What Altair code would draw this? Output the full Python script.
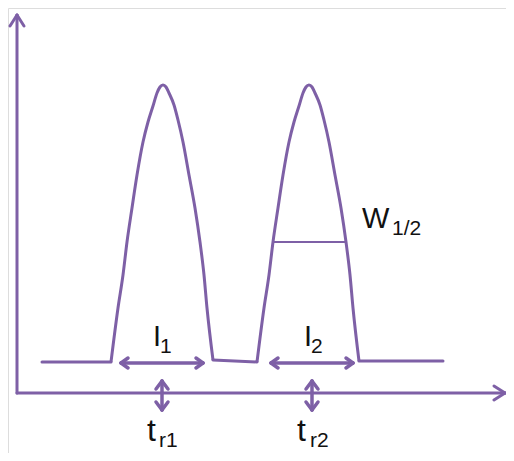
import altair as alt
import pandas as pd

# Chromatogram: baseline pieces (time, signal)
base_t = [25, 94, 196, 240, 342, 426]
base_s = [31, 31, 33, 31, 32, 32]
base_part = [0, 0, 1, 1, 2, 2]

# Peak 1 and peak 2 (time, signal)
peak1_t = [94, 101, 106, 110, 115, 120, 126, 131, 136, 140, 143, 146, 149, 152, 157, 161, 166, 172, 178, 183, 187, 190, 196]
peak1_s = [31, 85, 118, 151, 185, 218, 251, 271, 287, 300, 306, 308, 306, 300, 288, 273, 251, 218, 185, 151, 118, 85, 33]
peak2_t = [240, 247, 252, 256, 261, 266, 272, 277, 282, 286, 289, 292, 295, 298, 303, 307, 312, 318, 324, 329, 333, 336, 342]
peak2_s = [31, 85, 118, 151, 185, 218, 251, 271, 287, 300, 306, 308, 306, 300, 288, 273, 251, 218, 185, 151, 118, 85, 32]

# Axes (with arrow heads)
axis_t = [0, 0, -7, 7, 477, 477]
axis_s = [0, 0, 367, 367, 7, -7]
axis_t2 = [0, 488, 0, 0, 488, 488]
axis_s2 = [378, 0, 378, 378, 0, 0]

# Width arrows I1, I2 and retention-time arrows tr1, tr2
arr_t = [104, 104, 104, 186, 186,   254, 254, 254, 336, 336,
         145, 145, 145, 145, 145,   295, 295, 295, 295, 295]
arr_s = [30, 30, 30, 30, 30,        30, 30, 30, 30, 30,
         12, 12, 12, -17, -17,      12, 12, 12, -17, -17]
arr_t2 = [186, 111, 111, 179, 179,  336, 261, 261, 329, 329,
          145, 139, 151, 139, 151,  295, 289, 301, 289, 301]
arr_s2 = [30, 35, 25, 35, 25,       30, 35, 25, 35, 25,
          -17, 4, 4, -9, -9,        -17, 4, 4, -9, -9]

# Half-height width W1/2
half_t, half_s, half_t2 = [257], [151], [328]

# Labels
lab_text = ["I", "I", "W", "t", "t"]
lab_t = [136, 287, 345, 130, 280]
lab_s = [47, 47, 165, -48, -48]
sub_text = ["1", "2", "1/2", "r1", "r2"]
sub_t = [143, 294, 375, 142, 293]
sub_s = [40, 40, 158, -54, -54]
lab_size = [29, 29, 29, 32, 32]

PURPLE = "#7E60A6"
FONT = "Liberation Sans"

xs = alt.Scale(domain=[-9, 489], nice=False, zero=False)
ys = alt.Scale(domain=[-60, 385], nice=False, zero=False)

base = pd.DataFrame({"t": base_t, "s": base_s, "part": base_part, "i": range(len(base_t))})
peaks = pd.DataFrame({
    "t": peak1_t + peak2_t,
    "s": peak1_s + peak2_s,
    "part": [1] * len(peak1_t) + [2] * len(peak2_t),
    "i": range(len(peak1_t) + len(peak2_t)),
})
axes = pd.DataFrame({"t": axis_t, "s": axis_s, "t2": axis_t2, "s2": axis_s2})
arrows = pd.DataFrame({"t": arr_t, "s": arr_s, "t2": arr_t2, "s2": arr_s2})
half = pd.DataFrame({"t": half_t, "s": half_s, "t2": half_t2})
labels = pd.DataFrame({"text": lab_text, "t": lab_t, "s": lab_s, "size": lab_size})
subs = pd.DataFrame({"text": sub_text, "t": sub_t, "s": sub_s})

X = alt.X("t:Q", scale=xs, axis=None)
Y = alt.Y("s:Q", scale=ys, axis=None)

base_layer = alt.Chart(base).mark_line(color=PURPLE, strokeWidth=3, strokeCap="round").encode(
    x=X, y=Y, detail="part:N", order="i:Q")
peak_layer = alt.Chart(peaks).mark_line(color=PURPLE, strokeWidth=3, interpolate="monotone",
                                        strokeJoin="round").encode(
    x=X, y=Y, detail="part:N", order="i:Q")
axis_layer = alt.Chart(axes).mark_rule(color=PURPLE, strokeWidth=3, strokeCap="round").encode(
    x=X, y=Y, x2="t2:Q", y2="s2:Q")
arrow_layer = alt.Chart(arrows).mark_rule(color=PURPLE, strokeWidth=3.5, strokeCap="round").encode(
    x=X, y=Y, x2="t2:Q", y2="s2:Q")
half_layer = alt.Chart(half).mark_rule(color=PURPLE, strokeWidth=2).encode(
    x=X, y=Y, x2="t2:Q")
label_layer = alt.Chart(labels).mark_text(align="left", baseline="alphabetic", font=FONT, color="#111111").encode(
    x=X, y=Y, text="text:N", size=alt.Size("size:Q", scale=None, legend=None))
sub_layer = alt.Chart(subs).mark_text(align="left", baseline="alphabetic", font=FONT, fontSize=21, color="#111111").encode(
    x=X, y=Y, text="text:N")

chart = alt.layer(base_layer, peak_layer, axis_layer, arrow_layer, half_layer, label_layer, sub_layer).properties(
    width=498, height=445, padding=0, autosize=alt.AutoSizeParams(type="none")
).configure_view(stroke=None).configure(background="white")

chart.save("out.html", embed_options={"renderer": "svg", "actions": False})
